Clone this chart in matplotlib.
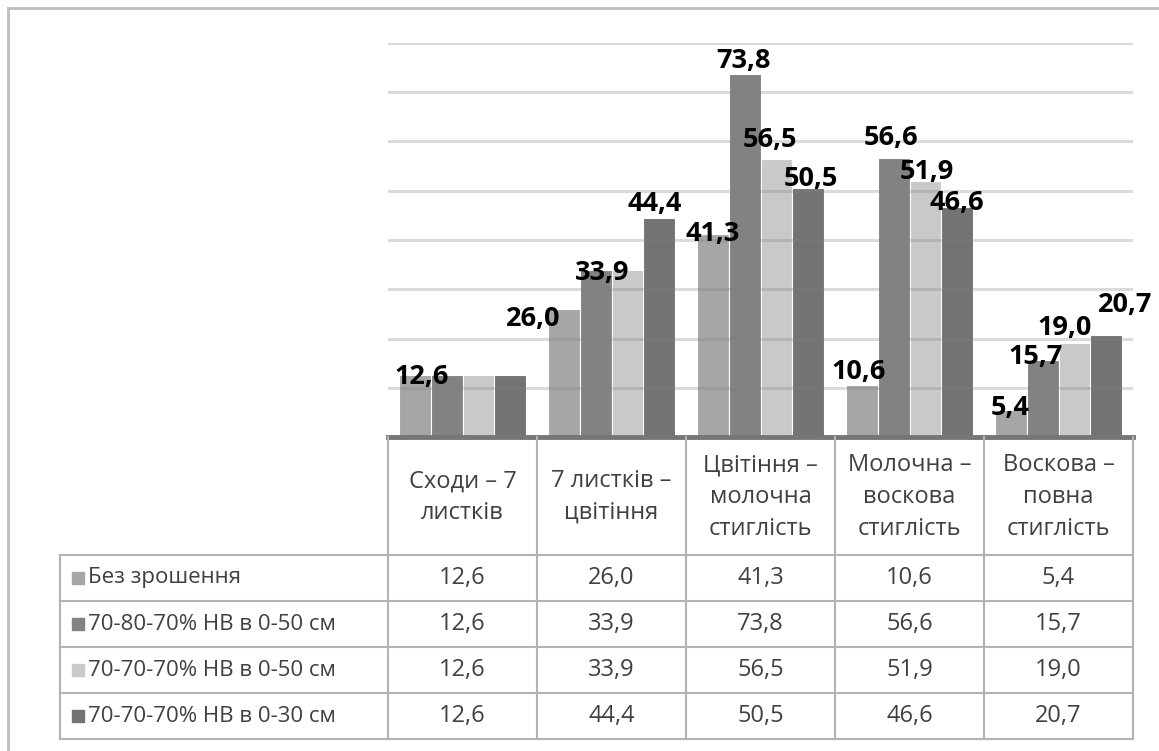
import matplotlib.pyplot as plt
from matplotlib.lines import Line2D

plt.rcParams['font.family'] = ['Open Sans', 'DejaVu Sans']

# Data
categories = ['Сходи – 7\nлистків', '7 листків –\nцвітіння', 'Цвітіння –\nмолочна\nстиглість',
              'Молочна –\nвоскова\nстиглість', 'Воскова –\nповна\nстиглість']
series_names = ['Без зрошення', '70-80-70% НВ в 0-50 см', '70-70-70% НВ в 0-50 см', '70-70-70% НВ в 0-30 см']
no_irrigation = [12.6, 26.0, 41.3, 10.6, 5.4]
irr_708070_50 = [12.6, 33.9, 73.8, 56.6, 15.7]
irr_707070_50 = [12.6, 33.9, 56.5, 51.9, 19.0]
irr_707070_30 = [12.6, 44.4, 50.5, 46.6, 20.7]
series = [no_irrigation, irr_708070_50, irr_707070_50, irr_707070_30]
colors = ['#a6a6a6', '#828282', '#c9c9c9', '#737373']

# label offsets in pixels (series, category) -> (dx, dy); missing = label hidden
label_offsets = {
    (0, 0): (7, -2),
    (0, 1): (-31, -10), (1, 1): (6, -3), (3, 1): (-4, 14),
    (0, 2): (0, 0), (1, 2): (-1, 13), (2, 2): (-6, 19), (3, 2): (3, 9),
    (0, 3): (-3, 13), (1, 3): (-3, 20), (2, 3): (2, 9), (3, 3): (0, 4),
    (0, 4): (-1, 2), (1, 4): (-7, 3), (2, 4): (-10, 15), (3, 4): (19, 30),
}

W, H = 1159, 751
fig = plt.figure(figsize=(W / 100, H / 100), dpi=100)

# chart area
ax = fig.add_axes([388 / W, (H - 437) / H, 745 / W, 394 / H])
ax.set_xlim(-0.5, 4.5)
ax.set_ylim(0, 80)
ax.axis('off')

bw = 0.212
for s, vals in enumerate(series):
    xs = [i + (s - 1.5) * bw for i in range(len(vals))]
    ax.bar(xs, vals, width=bw, color=colors[s], edgecolor='white', linewidth=0.8, zorder=2)
    for i, v in enumerate(vals):
        if (s, i) in label_offsets:
            dx, dy = label_offsets[(s, i)]
            ax.annotate(f'{v:.1f}'.replace('.', ','), (xs[i], v), xytext=(dx, dy),
                        textcoords='offset pixels', ha='center', va='center',
                        fontsize=19.5, fontweight='bold', color='black', zorder=6)

for y in range(10, 81, 10):
    ax.axhline(y, color='#808080', alpha=0.28, lw=2.2, zorder=3)
ax.axhline(0, color='#767676', lw=3.5, zorder=4, clip_on=False)

# data table
leg_w = (388 - 60) / 149
tax = fig.add_axes([60 / W, (H - 739) / H, (1133 - 60) / W, (739 - 437) / H])
tax.set_xlim(-0.5 - leg_w, 4.5)
tax.set_ylim(302, 0)
tax.axis('off')

rows = [0, 118, 164, 210, 256, 302]
grid_c = '#b3b3b3'
for i in range(6):
    tax.plot([i - 0.5, i - 0.5], [0, 302], color=grid_c, lw=1.5, clip_on=False)
tax.plot([-0.5 - leg_w] * 2, [118, 302], color=grid_c, lw=1.5, clip_on=False)
for y in rows[1:]:
    tax.plot([-0.5 - leg_w, 4.5], [y, y], color=grid_c, lw=1.5, clip_on=False)

txt_c = '#404040'
for i, cat in enumerate(categories):
    tax.text(i, 60, cat, ha='center', va='center', fontsize=17, color=txt_c, linespacing=1.42)

for s, vals in enumerate(series):
    yc = (rows[s + 1] + rows[s + 2]) / 2
    tax.plot(-0.5 - leg_w + 0.12, yc, marker='s', markersize=8, color=colors[s], clip_on=False)
    tax.text(-0.5 - leg_w + 0.19, yc, series_names[s], ha='left', va='center',
             fontsize=16, color=txt_c)
    for i, v in enumerate(vals):
        tax.text(i, yc, f'{v:.1f}'.replace('.', ','), ha='center', va='center',
                 fontsize=17, color=txt_c)

# outer frame
fig.add_artist(Line2D([7.5 / W, 7.5 / W], [0, 1 - 7.5 / H], color='#bdbdbd', lw=2))
fig.add_artist(Line2D([7.5 / W, 1], [1 - 7.5 / H] * 2, color='#bdbdbd', lw=2))

fig.savefig('out.png', dpi=100, facecolor='white')
